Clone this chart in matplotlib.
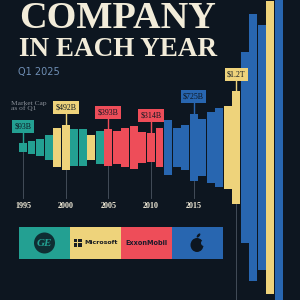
"""Largest company in each year: symmetric market-cap bars."""

import matplotlib.pyplot as plt
from matplotlib.patches import Rectangle, Circle, Ellipse

# --- data (market cap as of Q1, $B) ---
years = list(range(1995, 2026))
companies = (["GE"] * 4 + ["MSFT"] * 2 + ["GE"] * 2 + ["MSFT"] + ["GE"]
             + ["XOM"] * 7 + ["AAPL"] * 7 + ["MSFT"] * 2 + ["AAPL"] * 3
             + ["MSFT"] + ["AAPL"])
market_cap = [93, 130, 190, 268, 410, 492, 396, 390, 265, 345,
              393, 357, 420, 452, 340, 314, 420,
              590, 420, 480, 725, 605, 750, 855,
              895, 1200, 2050, 2860, 2620, 3130, 3350]
callout_years = [1995, 2000, 2005, 2010, 2015, 2020]
callout_text = ["$93B", "$492B", "$393B", "$314B", "$725B", "$1.2T"]
tick_years = [1995, 2000, 2005, 2010, 2015]
logo_order = ["GE", "MSFT", "XOM", "AAPL"]

BG = "#0d1620"
CREAM = "#f2ecd9"
colors = {"GE": "#23a092", "MSFT": "#eed37b", "XOM": "#ee4d59", "AAPL": "#2866b0"}

# pixel scale of the original: 10.7 $B per pixel, 8.53 px per year
B_PER_PX = 10.7
PX_PER_YEAR = 8.53


def fx(px):
    return px / 300


def fy(py):
    return 1 - py / 300


fig = plt.figure(figsize=(3, 3), dpi=100)
fig.patch.set_facecolor(BG)
ax = fig.add_axes([0, 0, 1, 1])
ax.set_facecolor(BG)
ax.set_xlim(1995 - 23 / PX_PER_YEAR, 1995 + 277 / PX_PER_YEAR)
ax.set_ylim(-152.5 * B_PER_PX, 147.5 * B_PER_PX)
ax.axis("off")

# --- bars, centred on zero ---
bar_colors = [colors[c] for c in companies]
ax.bar(years, market_cap, width=0.93, bottom=[-v / 2 for v in market_cap],
       color=bar_colors, zorder=3)

# --- guide lines and year labels ---
val = dict(zip(years, market_cap))
line_end = -(198 - 147.5) * B_PER_PX
for y in tick_years:
    ax.plot([y, y], [-val[y] / 2, line_end], color="#4b5561", lw=0.6, zorder=1)
    ax.text(y, -(206 - 147.5) * B_PER_PX, str(y), color=CREAM, fontsize=5.8,
            fontweight="bold", family="Liberation Serif", ha="center", va="center")
ax.plot([2020, 2020], [-val[2020] / 2, -160 * B_PER_PX], color="#4b5561", lw=0.6, zorder=1)

# --- callouts ---
gap = 13 * B_PER_PX
for y, txt in zip(callout_years, callout_text):
    c = colors[companies[years.index(y)]]
    top = val[y] / 2
    ax.plot([y, y], [top, top + gap], color=c, lw=1.0, zorder=4)
    ax.text(y, top + gap, txt, color=BG, fontsize=5.7, family="Liberation Serif",
            ha="center", va="bottom", zorder=5,
            bbox=dict(boxstyle="square,pad=0.3", fc=c, ec="none"))

# --- titles ---
fig.text(fx(19), fy(19), "COMPANY", color=CREAM, fontsize=27.5, fontweight="bold",
         family="Liberation Serif", ha="left", va="center")
fig.text(fx(19), fy(49.5), "IN EACH YEAR", color=CREAM, fontsize=19.5, fontweight="bold",
         family="Liberation Serif", ha="left", va="center")
fig.text(fx(18), fy(71.5), "Q1 2025", color="#6f8fb5", fontsize=7, family="DejaVu Sans",
         ha="left", va="center")
fig.text(fx(11), fy(106), "Market Cap\nas of Q1", color="#8a9099", fontsize=5.4,
         family="Liberation Serif", ha="left", va="center", linespacing=1.0)

# --- logo strip ---
x0, w, top_px, h = 19, 51, 227, 32
for i, comp in enumerate(logo_order):
    fig.patches.append(Rectangle((fx(x0 + i * w), fy(top_px + h)), w / 300, h / 300,
                                 transform=fig.transFigure, fc=colors[comp], ec="none"))

# GE emblem
fig.patches.append(Circle((fx(44.5), fy(243)), 10.5 / 300, transform=fig.transFigure,
                          fc="#0f2e33", ec="none"))
fig.text(fx(44.5), fy(243), "GE", color=colors["GE"], fontsize=8, style="italic",
         family="Liberation Serif", fontweight="bold", ha="center", va="center")

# Microsoft
for dx, dy in [(0, 0), (4.6, 0), (0, 4.6), (4.6, 4.6)]:
    fig.patches.append(Rectangle((fx(73.5 + dx), fy(238.5 + dy + 3.8)), 3.8 / 300, 3.8 / 300,
                                 transform=fig.transFigure, fc="#1a1d22", ec="none"))
fig.text(fx(84), fy(243), "Microsoft", color="#1a1d22", fontsize=4.5, fontweight="bold",
         family="DejaVu Sans", ha="left", va="center")

# ExxonMobil
fig.text(fx(146.5), fy(243), "ExxonMobil", color="#1c1a2a", fontsize=4.7, fontweight="bold",
         family="DejaVu Sans", ha="center", va="center")

# Apple
fig.patches.append(Ellipse((fx(197), fy(245)), 13 / 300, 14 / 300, transform=fig.transFigure,
                           fc="#0d1620", ec="none"))
fig.patches.append(Circle((fx(204), fy(243)), 3 / 300, transform=fig.transFigure,
                          fc=colors["AAPL"], ec="none"))
fig.patches.append(Ellipse((fx(198.5), fy(235.5)), 2.5 / 300, 5 / 300, angle=-40,
                           transform=fig.transFigure, fc="#0d1620", ec="none"))

fig.savefig("out.png", dpi=100, facecolor=BG)
